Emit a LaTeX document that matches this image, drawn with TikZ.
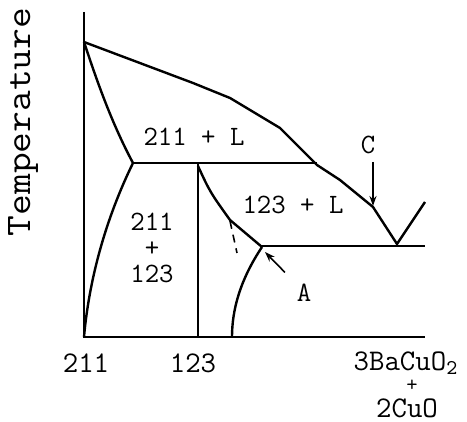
\documentclass[tikz,border=0pt]{standalone}
\usetikzlibrary{arrows.meta}
\begin{document}
\begin{tikzpicture}[x=0.5pt, y=-0.5pt, line width=1.2pt,
    lbl/.style={font=\ttfamily\fontsize{14}{16}\selectfont},
    axlbl/.style={font=\ttfamily\fontsize{15}{17}\selectfont, inner sep=0pt},
    pointer/.style={line width=0.8pt, -{Stealth[length=5pt, width=3.5pt]}}]
    \useasboundingbox (0,0) rectangle (467,422);

    % Axes
    \draw (84,12) -- (84,337) -- (425,337);
    \node[rotate=90, xscale=1.12, font=\ttfamily\fontsize{18}{20}\selectfont] (temp) at (23,122) {Temperature};

    % Liquidus
    \draw (84,42) -- (193,83) -- (230,98) -- (280,128) -- (317,165)
          -- (340,180) -- (373,207) -- (397,244) -- (425,202);

    % 211 + L field
    \draw (84,42) .. controls (95,75) and (110,120) .. (133,163);
    \draw (133,163) -- (317,163);
    \node[lbl] (r211L) at (194,137) {211 + L};

    % 211 + 123 field
    \draw (133,163) .. controls (110,210) and (90,270) .. (84,337);
    \draw (198,163) -- (198,337);
    \node[lbl, align=center] (r211123) at (152,248) {211\\[-3pt]+\\[-3pt]123};

    % 123 + L field
    \draw (198,166) .. controls (210,192) .. (230,220) -- (262,247);
    \draw[line width=0.8pt, dash pattern=on 4pt off 3pt] (230,221) -- (237,253);
    \draw (262,246) -- (425,246);
    \draw (262,247) .. controls (240,280) and (232,310) .. (232,337);
    \node[lbl] (r123L) at (293,205) {123 + L};

    % Points C and A
    \node[lbl] (ptC) at (368,145) {C};
    \coordinate (tipC) at (373,206);
    \draw[pointer] (ptC.south -| tipC) -- (tipC);

    \node[lbl] (ptA) at (304,293) {A};
    \coordinate (tipA) at (265,252);
    \draw[pointer] (ptA.north west) ++(-4,-4) coordinate (tailA) (tailA) -- (tipA);

    % Compositions
    \node[axlbl] (c211) at (86,363) {211};
    \node[axlbl] (c123) at (193,363) {123};
    \node[axlbl] (c3Ba) at (406,363) {3BaCuO\textsubscript{2}};
    \node[axlbl, font=\ttfamily\fontsize{11}{12}\selectfont] (cplus) at (412,386) {+};
    \node[axlbl] (c2Cu) at (407,408) {2CuO};
\end{tikzpicture}
\end{document}
